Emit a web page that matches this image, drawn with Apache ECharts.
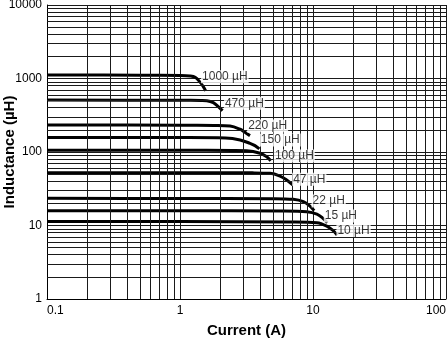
<!DOCTYPE html>
<html>
<head>
<meta charset="utf-8">
<script src="https://cdn.jsdelivr.net/npm/echarts@6/dist/echarts.min.js"></script>
<style>html,body{margin:0;padding:0;background:#fff}#c{width:448px;height:342px}</style>
</head>
<body>
<div id="c"></div>
<script>
// ---- data ----
const seriesNames = ['1000 µH','470 µH','220 µH','150 µH','100 µH','47 µH','22 µH','15 µH','10 µH'];
const cur1000 = [0.1, 0.5, 1.0, 1.19, 1.30, 1.41, 1.50, 1.56];
const ind1000 = [1116, 1110, 1099, 1082, 1040, 900, 769, 679];
const cur470 = [0.1, 1.0, 1.45, 1.59, 1.78, 1.94, 2.09];
const ind470 = [510, 506, 503, 499, 469, 413, 365];
const cur220 = [0.1, 1.0, 1.8, 2.38, 2.83, 3.08, 3.36];
const ind220 = [233, 232, 230, 226, 204, 185, 167];
const cur150 = [0.1, 1.0, 2.2, 2.83, 3.36, 3.66, 3.95];
const ind150 = [158, 157, 155, 146, 131, 122, 110];
const cur100 = [0.1, 1.0, 2.5, 3.17, 4.0, 4.49, 4.81];
const ind100 = [106, 106, 105, 104, 96, 86, 76];
const cur47 = [0.1, 1.0, 3.5, 4.75, 5.65, 6.34, 7.04];
const ind47 = [52.3, 52.2, 52.0, 51.3, 47.1, 41.6, 35.6];
const cur22 = [0.1, 1.0, 5.0, 7.11, 8.46, 9.49, 10.2];
const ind22 = [23.4, 23.3, 23.2, 22.7, 21.1, 18.4, 15.9];
const cur15 = [0.1, 1.0, 6.0, 8.97, 10.7, 11.9, 12.8];
const ind15 = [15.9, 15.9, 15.8, 15.4, 14.3, 12.5, 10.9];
const cur10 = [0.1, 1.0, 7.0, 10.7, 12.7, 14.2, 15.2];
const ind10 = [11.3, 11.3, 11.2, 10.9, 9.8, 8.5, 7.4];
// label anchor positions (current, inductance)
const labelCurrent = [1.44, 2.14, 3.2, 3.98, 5.08, 6.97, 9.75, 12.05, 15.0];
const labelInductance = [1058, 460, 226, 146, 88, 42.5, 21.5, 13.5, 8.55];
// axes / ticks
const xTicks = [0.1, 1, 10, 100];
const yTicks = [1, 10, 100, 1000, 10000];
const minorMultipliers = [2, 3, 4, 5, 6, 7, 8, 9];

const curCols = [cur1000, cur470, cur220, cur150, cur100, cur47, cur22, cur15, cur10];
const indCols = [ind1000, ind470, ind220, ind150, ind100, ind47, ind22, ind15, ind10];

const xMinor = [];
xTicks.slice(0, -1).forEach(d => minorMultipliers.forEach(m => xMinor.push(+(d * m).toPrecision(6))));
const yMinor = [];
yTicks.slice(0, -1).forEach(d => minorMultipliers.forEach(m => yMinor.push(+(d * m).toPrecision(6))));

const FONT = 'Liberation Sans, Arial, Helvetica, sans-serif';
const fmt = v => String(+Number(v).toPrecision(6));

const series = [];
series.push({
  type: 'line', data: [], z: 1, silent: true,
  markLine: {
    silent: true, symbol: 'none', animation: false,
    label: { show: false },
    lineStyle: { color: '#1a1a1a', width: 1, type: 'solid' },
    data: xMinor.map(v => ({ xAxis: v })).concat(yMinor.map(v => ({ yAxis: v })))
  }
});
seriesNames.forEach((n, i) => {
  series.push({
    type: 'line', name: n, z: 3, smooth: 0.35, showSymbol: false, symbol: 'none',
    lineStyle: { color: '#000', width: 3 },
    data: curCols[i].map((c, k) => [c, indCols[i][k]])
  });
});
series.push({
  type: 'scatter', z: 5, symbolSize: 0.01, silent: true,
  data: labelCurrent.map((c, i) => [c, labelInductance[i], seriesNames[i]]),
  label: {
    show: true, position: 'right', distance: 0,
    formatter: p => p.data[2],
    color: '#000', fontSize: 12, fontFamily: FONT,
    backgroundColor: '#fff', padding: [1, 1, 0, 1]
  }
});

const chart = echarts.init(document.getElementById('c'), null, { renderer: 'canvas' });
chart.setOption({
  animation: false,
  backgroundColor: '#fff',
  grid: { left: 47, right: 2, top: 5, bottom: 43, containLabel: false, outerBoundsMode: 'none' },
  xAxis: {
    type: 'log', logBase: 10, min: xTicks[0], max: xTicks[xTicks.length - 1],
    name: 'Current (A)', nameLocation: 'middle', nameGap: 24, nameMoveOverlap: false,
    nameTextStyle: { fontFamily: FONT, fontSize: 15, fontWeight: 'bold', color: '#000' },
    axisLine: { show: true, lineStyle: { color: '#000', width: 1 } },
    axisTick: { show: false },
    axisLabel: { color: '#000', fontSize: 12, fontFamily: FONT, margin: 6, formatter: fmt,
                 alignMinLabel: 'left', alignMaxLabel: 'right' },
    splitLine: { show: true, lineStyle: { color: '#1a1a1a', width: 1 } },
    minorTick: { show: false }, minorSplitLine: { show: false }
  },
  yAxis: {
    type: 'log', logBase: 10, min: yTicks[0], max: yTicks[yTicks.length - 1],
    name: 'Inductance (µH)', nameLocation: 'middle', nameGap: 30, nameMoveOverlap: false,
    nameTextStyle: { fontFamily: FONT, fontSize: 15, fontWeight: 'bold', color: '#000' },
    axisLine: { show: true, lineStyle: { color: '#000', width: 1 } },
    axisTick: { show: false },
    axisLabel: { color: '#000', fontSize: 12, fontFamily: FONT, margin: 5, formatter: fmt },
    splitLine: { show: true, lineStyle: { color: '#1a1a1a', width: 1 } },
    minorTick: { show: false }, minorSplitLine: { show: false }
  },
  series: series
});
</script>
</body>
</html>
